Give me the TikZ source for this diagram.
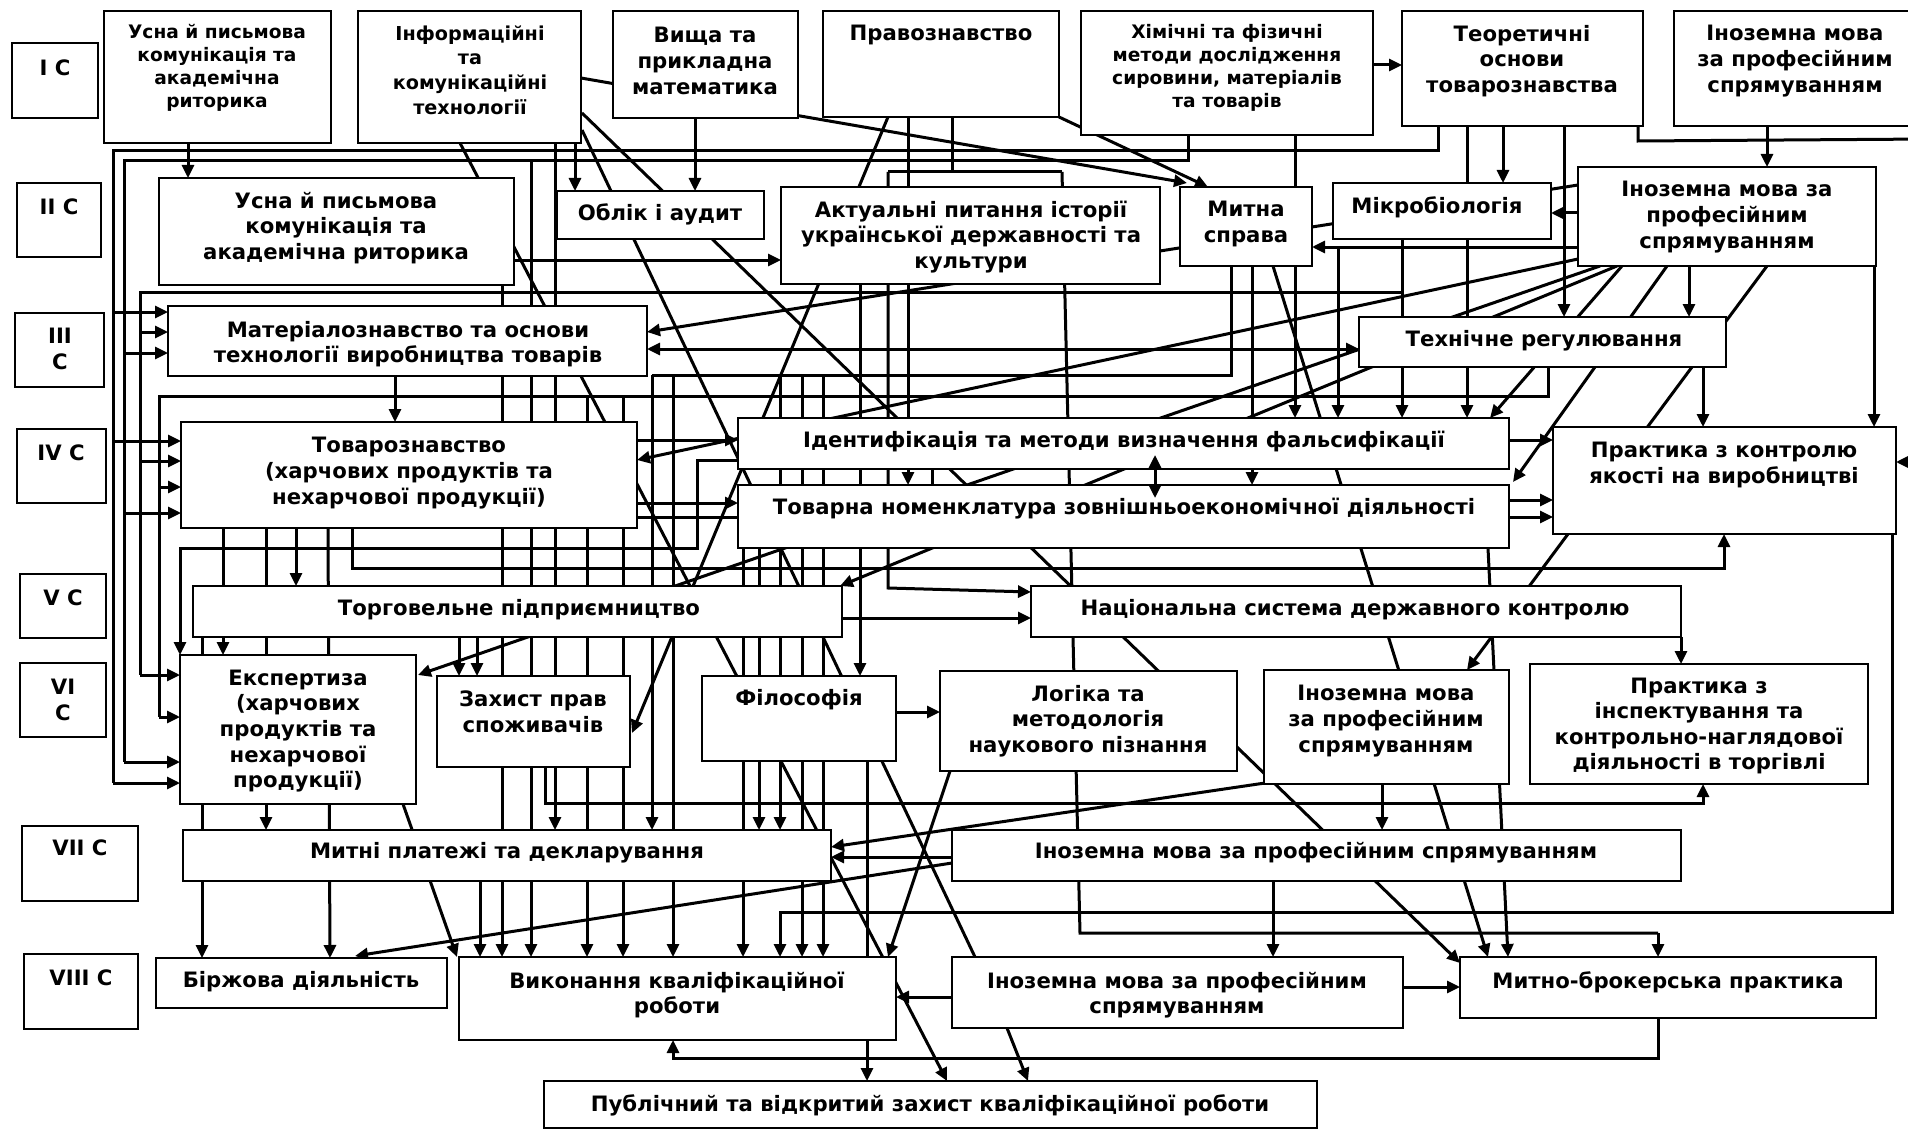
\documentclass[tikz,border=0pt]{standalone}
\usepackage{fontspec}
\setmainfont{DejaVu Sans}
\usetikzlibrary{arrows.meta,fit}
\tikzset{
 bx/.style={draw, line width=1pt, fill=white, inner sep=0pt},
 ln/.style={line width=1.5pt, line join=miter},
 ar/.style={ln, -{Triangle[length=6.5pt,width=6pt]}},
 dar/.style={ln, {Triangle[length=6.5pt,width=6pt]}-{Triangle[length=6.5pt,width=6pt]}},
 tx/.style={align=center, inner sep=0pt, font=\bfseries\fontsize{10.6}{12.8}\selectfont},
 txs/.style={tx, font=\bfseries\fontsize{9.3}{11.6}\selectfont},
 txm/.style={tx, font=\bfseries\fontsize{9.6}{12.4}\selectfont},
}
\begin{document}
\begin{tikzpicture}[x=0.5pt,y=-0.5pt]
\useasboundingbox (0,0) rectangle (1908,1129);
\fill[white] (0,0) rectangle (1908,1129);
% ---------------- connectors (drawn first, boxes cover them)
\draw[ln] (1438,126) -- (1438,151) -- (113,151) -- (113,783);
\draw[ar] (113,783) -- (180,783);
\draw[ar] (113,312) -- (168,312);
\draw[ar] (113,441) -- (181,441);
\draw[ln] (1188,135) -- (1188,161) -- (124,161) -- (124,762);
\draw[ar] (124,762) -- (180,762);
\draw[ar] (124,353) -- (168,353);
\draw[ar] (124,513) -- (181,513);
\draw[ar] (531,161) -- (531,957);
\draw[ln] (1402,239) -- (1402,292) -- (140,292) -- (140,675);
\draw[ar] (140,675) -- (180,675);
\draw[ar] (140,332) -- (168,332);
\draw[ar] (140,461) -- (181,461);
\draw[ar] (1402,239) -- (1402,418);
\draw[ln] (1548,367) -- (1548,396) -- (159,396) -- (159,717);
\draw[ar] (159,717) -- (180,717);
\draw[ar] (159,487) -- (181,487);
\draw[ar] (587,396) -- (587,957);
\draw[ar] (623,396) -- (623,957);
\draw[ln] (1231,266) -- (1231,375) -- (652,375);
\draw[ar] (652,375) -- (652,830);
\draw[ar] (673,375) -- (673,957);
\draw[ar] (780,375) -- (780,830);
\draw[ar] (802,375) -- (802,957);
\draw[ar] (823,375) -- (823,957);
\draw[ar] (188,143) -- (188,178);
\draw[ar] (575,143) -- (575,191);
\draw[ar] (695,118) -- (695,191);
\draw[ar] (555,143) -- (555,830);
\draw[ar] (581,78) -- (1187,183);
\draw[ln] (582,130) -- (975,957);
\draw[ar] (582,113) -- (1460,963);
\draw[ar] (460,143) -- (947,1081);
\draw[ar] (888,117) -- (632,733);
\draw[ar] (1059,117) -- (1208,187);
\draw[ar] (1373,65) -- (1402,65);
\begin{scope}
\clip (0,0) rectangle (1908,1129);
\draw[ar] (1638,126) -- (1638,141) -- (1930,139) -- (1930,462) -- (1896,462);
\end{scope}
\draw[ar] (1767,126) -- (1767,167);
\draw[ar] (1467,126) -- (1467,418);
\draw[ar] (1503,126) -- (1503,183);
\draw[ar] (1564,126) -- (1564,317);
\draw[ln] (952,117) -- (952,172);
\draw[ln] (888,172) -- (1062,172);
\draw[ar] (888,172) -- (888,588) -- (1031,592);
\draw[ln] (1062,172) -- (1080,933) -- (1658,933);
\draw[ar] (1658,933) -- (1658,957);
\draw[ar] (908,117) -- (908,485);
\draw[ar] (860,284) -- (860,676);
\draw[ln] (932,469) -- (932,485);
\draw[ar] (1578,213) -- (1551,213);
\draw[ar] (1578,185) -- (647,332);
\draw[ar] (1578,247) -- (1312,247);
\draw[ar] (1338,247) -- (1338,418);
\draw[ar] (1578,259) -- (637,460);
\draw[ar] (1600,266) -- (418,675);
\draw[ar] (1617,266) -- (840,586);
\draw[ar] (1622,266) -- (1490,418);
\draw[ar] (1667,266) -- (1513,482);
\draw[ar] (1689,266) -- (1689,317);
\draw[ar] (1767,266) -- (1467,670);
\draw[ar] (1874,266) -- (1874,427);
\draw[ar] (1703,367) -- (1703,427);
\draw[dar] (647,349) -- (1359,349);
\draw[ar] (395,376) -- (395,422);
\draw[ar] (514,260) -- (781,260);
\draw[ar] (502,285) -- (502,957);
\draw[ar] (1295,135) -- (1295,418);
\draw[ar] (1252,266) -- (1252,485);
\draw[ar] (1273,266) -- (1488,957);
\draw[ar] (637,440) -- (738,440);
\draw[ar] (1509,440) -- (1553,440);
\draw[ar] (637,503) -- (738,503);
\draw[ar] (637,517) -- (1553,517);
\draw[ar] (1509,500) -- (1553,500);
\draw[ar] (738,460) -- (697,460) -- (697,548) -- (180,548) -- (180,655);
\draw[ar] (352,528) -- (352,568) -- (1724,568) -- (1724,534);
\draw[ar] (296,528) -- (296,586);
\draw[ar] (223,528) -- (223,655);
\draw[ar] (266,528) -- (266,830);
\draw[ar] (328,528) -- (330,958);
\draw[ar] (202,637) -- (202,958);
\draw[ar] (459,637) -- (459,676);
\draw[ar] (477,637) -- (477,676);
\draw[ar] (842,618) -- (1031,618);
\draw[ar] (743,548) -- (743,957);
\draw[ar] (759,548) -- (759,830);
\draw[ar] (896,712) -- (940,712);
\draw[ar] (867,761) -- (867,1081);
\draw[ar] (1681,637) -- (1681,664);
\draw[ar] (1488,548) -- (1508,957);
\draw[ar] (1382,784) -- (1382,830);
\draw[ar] (1265,783) -- (831,847);
\draw[ar] (952,857) -- (831,857);
\draw[ar] (952,863) -- (355,956);
\draw[ar] (545,767) -- (545,803) -- (1703,803) -- (1703,784);
\draw[ar] (1273,881) -- (1273,957);
\draw[ar] (1892,534) -- (1892,912) -- (780,912) -- (780,957);
\draw[ar] (952,997) -- (896,997);
\draw[ar] (1403,987) -- (1460,987);
\draw[ar] (1658,1018) -- (1658,1058) -- (673,1058) -- (673,1040);
\draw[ar] (950,771) -- (888,957);
\draw[ar] (403,804) -- (457,957);
\draw[ar] (480,881) -- (480,957);
\draw[ar] (1007,1028) -- (1028,1081);
% ---------------- boxes
\node[bx, fit={(12,43) (98,118)}] (c1) {};
\node[bx, fit={(104,11) (331,143)}] (u1) {};
\node[bx, fit={(358,11) (581,143)}] (inf) {};
\node[bx, fit={(613,11) (798,118)}] (vyshcha) {};
\node[bx, fit={(823,11) (1059,117)}] (pravo) {};
\node[bx, fit={(1081,11) (1373,135)}] (chem) {};
\node[bx, fit={(1402,11) (1643,126)}] (teor) {};
\node[bx, fit={(1674,11) (1930,126)}] (in1) {};
\node[bx, fit={(17,183) (101,257)}] (c2) {};
\node[bx, fit={(159,178) (514,285)}] (u2) {};
\node[bx, fit={(557,191) (764,239)}] (oblik) {};
\node[bx, fit={(781,187) (1160,284)}] (aktual) {};
\node[bx, fit={(1180,187) (1312,266)}] (mytna) {};
\node[bx, fit={(1333,183) (1551,239)}] (mikro) {};
\node[bx, fit={(1578,167) (1876,266)}] (in2) {};
\node[bx, fit={(15,313) (104,387)}] (c3) {};
\node[bx, fit={(168,306) (647,376)}] (mater) {};
\node[bx, fit={(1359,317) (1726,367)}] (tekh) {};
\node[bx, fit={(17,429) (106,503)}] (c4) {};
\node[bx, fit={(181,422) (637,528)}] (tovzn) {};
\node[bx, fit={(738,418) (1509,469)}] (ident) {};
\node[bx, fit={(738,485) (1509,548)}] (tovarna) {};
\node[bx, fit={(1553,427) (1896,534)}] (prkontr) {};
\node[bx, fit={(20,574) (106,638)}] (c5) {};
\node[bx, fit={(193,586) (842,637)}] (torg) {};
\node[bx, fit={(1031,586) (1681,637)}] (nats) {};
\node[bx, fit={(20,663) (106,737)}] (c6) {};
\node[bx, fit={(180,655) (416,804)}] (ekspert) {};
\node[bx, fit={(437,676) (630,767)}] (zakhyst) {};
\node[bx, fit={(702,676) (896,761)}] (filos) {};
\node[bx, fit={(940,671) (1237,771)}] (logika) {};
\node[bx, fit={(1264,670) (1509,784)}] (in6) {};
\node[bx, fit={(1530,664) (1868,784)}] (prinsp) {};
\node[bx, fit={(22,826) (138,901)}] (c7) {};
\node[bx, fit={(183,830) (831,881)}] (mytni) {};
\node[bx, fit={(952,830) (1681,881)}] (in7) {};
\node[bx, fit={(24,954) (138,1029)}] (c8) {};
\node[bx, fit={(156,958) (447,1008)}] (birzh) {};
\node[bx, fit={(459,957) (896,1040)}] (vykon) {};
\node[bx, fit={(952,957) (1403,1028)}] (in8) {};
\node[bx, fit={(1460,957) (1876,1018)}] (mbrok) {};
\node[bx, fit={(544,1081) (1317,1128)}] (publ) {};
\draw[dar] (1155,455) -- (1155,498);
% ---------------- texts
\node[tx] (t-c1) at (55,68) {I C};
\node[txs] (t-u1) at (217,68) {Усна й письмова\\комунікація та\\академічна\\риторика};
\node[txm] (t-inf) at (470,70) {Інформаційні\\та\\комунікаційні\\технології};
\node[tx] (t-vyshcha) at (705,61) {Вища та\\прикладна\\математика};
\node[tx] (t-pravo) at (941,35) {Правознавство};
\node[txs] (t-chem) at (1227,68) {Хімічні та фізичні\\методи дослідження\\сировини, матеріалів\\та товарів};
\node[tx] (t-teor) at (1522,61) {Теоретичні\\основи\\товарознавства};
\node[tx] (t-in1) at (1795,61) {Іноземна мова\\за професійним\\спрямуванням};
\node[tx] (t-c2) at (59,207) {II C};
\node[tx] (t-u2) at (336,228) {Усна й письмова\\комунікація та\\академічна риторика};
\node[tx] (t-oblik) at (660,214) {Облік і аудит};
\node[tx] (t-aktual) at (971,237) {Актуальні питання історії\\української державності та\\культури};
\node[tx] (t-mytna) at (1246,224) {Митна\\справа};
\node[tx] (t-mikro) at (1437,207) {Мікробіологія};
\node[tx] (t-in2) at (1727,217) {Іноземна мова за\\професійним\\спрямуванням};
\node[tx] (t-c3) at (60,349) {III\\C};
\node[tx] (t-mater) at (408,344) {Матеріалознавство та основи\\технології виробництва товарів};
\node[tx] (t-tekh) at (1544,341) {Технічне регулювання};
\node[tx] (t-c4) at (61,453) {IV C};
\node[tx] (t-tovzn) at (409,473) {Товарознавство\\(харчових продуктів та\\нехарчової продукції)};
\node[tx] (t-ident) at (1124,441) {Ідентифікація та методи визначення фальсифікації};
\node[tx] (t-tovarna) at (1124,509) {Товарна номенклатура зовнішньоекономічної діяльності};
\node[tx] (t-prkontr) at (1724,465) {Практика з контролю\\якості на виробництві};
\node[tx] (t-c5) at (63,598) {V C};
\node[tx] (t-torg) at (519,610) {Торговельне підприємництво};
\node[tx] (t-nats) at (1355,610) {Національна система державного контролю};
\node[tx] (t-c6) at (63,700) {VI\\C};
\node[tx] (t-ekspert) at (298,731) {Експертиза\\(харчових\\продуктів та\\нехарчової\\продукції)};
\node[tx] (t-zakhyst) at (533,712) {Захист прав\\споживачів};
\node[tx] (t-filos) at (799,700) {Філософія};
\node[tx] (t-logika) at (1088,721) {Логіка та\\методологія\\наукового пізнання};
\node[tx] (t-in6) at (1386,721) {Іноземна мова\\за професійним\\спрямуванням};
\node[tx] (t-prinsp) at (1699,726) {Практика з\\інспектування та\\контрольно-наглядової\\діяльності в торгівлі};
\node[tx] (t-c7) at (80,848) {VII C};
\node[tx] (t-mytni) at (507,853) {Митні платежі та декларування};
\node[tx] (t-in7) at (1316,853) {Іноземна мова за професійним спрямуванням};
\node[tx] (t-c8) at (81,978) {VIII C};
\node[tx] (t-birzh) at (301,982) {Біржова діяльність};
\node[tx] (t-vykon) at (677,995) {Виконання кваліфікаційної\\роботи};
\node[tx] (t-in8) at (1177,995) {Іноземна мова за професійним\\спрямуванням};
\node[tx] (t-mbrok) at (1668,982) {Митно-брокерська практика};
\node[tx] (t-publ) at (930,1105) {Публічний та відкритий захист кваліфікаційної роботи};
\end{tikzpicture}
\end{document}
